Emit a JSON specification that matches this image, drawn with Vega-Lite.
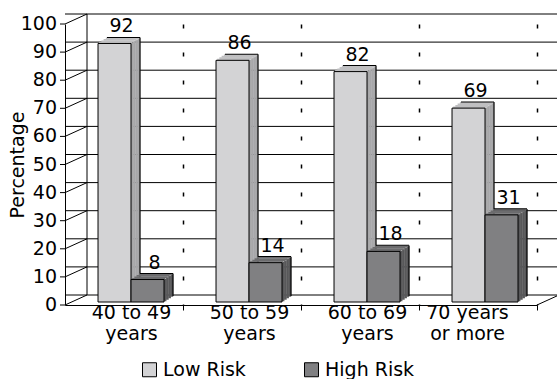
{
  "$schema": "https://vega.github.io/schema/vega-lite/v6.json",
  "width": 472,
  "height": 281,
  "autosize": {"type": "none"},
  "padding": {"left": 65, "top": 24, "right": 20, "bottom": 74},
  "background": "white",
  "datasets": {
    "bars": [
      {"age": "40 to 49\nyears", "risk": "Low Risk", "pct": 92},
      {"age": "40 to 49\nyears", "risk": "High Risk", "pct": 8},
      {"age": "50 to 59\nyears", "risk": "Low Risk", "pct": 86},
      {"age": "50 to 59\nyears", "risk": "High Risk", "pct": 14},
      {"age": "60 to 69\nyears", "risk": "Low Risk", "pct": 82},
      {"age": "60 to 69\nyears", "risk": "High Risk", "pct": 18},
      {"age": "70 years\nor more", "risk": "Low Risk", "pct": 69},
      {"age": "70 years\nor more", "risk": "High Risk", "pct": 31}
    ],
    "ticks": [
      {"v": 0}, {"v": 10}, {"v": 20}, {"v": 30}, {"v": 40}, {"v": 50},
      {"v": 60}, {"v": 70}, {"v": 80}, {"v": 90}, {"v": 100}
    ],
    "one": [{"k": 1}]
  },
  "layer": [
    {
      "data": {"name": "ticks"},
      "mark": {"type": "rule", "color": "#000", "strokeWidth": 1, "xOffset": 22, "x2Offset": 22, "yOffset": -10, "y2Offset": -10},
      "encoding": {
        "y": {"field": "v", "type": "quantitative", "scale": {"domain": [0, 100]}, "title": "Percentage"}
      }
    },
    {
      "data": {"name": "ticks"},
      "mark": {"type": "rule", "color": "#000", "strokeWidth": 1, "x2Offset": 22, "y2Offset": -10},
      "encoding": {
        "x": {"datum": "40 to 49\nyears", "type": "nominal", "bandPosition": 0,
          "scale": {"domain": ["40 to 49\nyears", "50 to 59\nyears", "60 to 69\nyears", "70 years\nor more"]}},
        "x2": {"datum": "40 to 49\nyears", "bandPosition": 0},
        "y": {"field": "v", "type": "quantitative", "title": "Percentage"},
        "y2": {"field": "v"}
      }
    },
    {
      "data": {"name": "ticks"},
      "mark": {"type": "rule", "color": "#000", "strokeWidth": 1, "xOffset": -5},
      "encoding": {
        "x": {"datum": "40 to 49\nyears", "type": "nominal", "bandPosition": 0},
        "x2": {"datum": "40 to 49\nyears", "bandPosition": 0},
        "y": {"field": "v", "type": "quantitative", "title": "Percentage"},
        "y2": {"field": "v"}
      }
    },
    {
      "data": {"name": "ticks"},
      "mark": {"type": "text", "align": "right", "baseline": "middle", "dx": -8, "fontSize": 19, "font": "DejaVu Sans", "color": "#000"},
      "encoding": {
        "x": {"datum": "40 to 49\nyears", "type": "nominal", "bandPosition": 0},
        "y": {"field": "v", "type": "quantitative", "title": "Percentage"},
        "text": {"field": "v", "type": "quantitative"}
      }
    },
    {
      "data": {"name": "one"},
      "mark": {"type": "rule", "color": "#000", "strokeWidth": 1, "xOffset": 22, "yOffset": -10, "y2Offset": -10},
      "encoding": {
        "x": {"datum": "40 to 49\nyears", "type": "nominal", "bandPosition": 0},
        "y": {"datum": 0, "type": "quantitative", "title": "Percentage"},
        "y2": {"datum": 100}
      }
    },
    {
      "data": {"name": "one"},
      "mark": {"type": "rule", "color": "#000", "strokeWidth": 1, "x2Offset": 22, "y2Offset": -10},
      "encoding": {
        "x": {"datum": "70 years\nor more", "type": "nominal", "bandPosition": 1},
        "x2": {"datum": "70 years\nor more", "bandPosition": 1},
        "y": {"datum": 0, "type": "quantitative", "title": "Percentage"},
        "y2": {"datum": 0}
      }
    },
    {
      "data": {"name": "bars"},
      "transform": [{"filter": "datum.risk === 'Low Risk'"}],
      "encoding": {
        "x": {"field": "age", "type": "nominal", "sort": null},
        "y": {"field": "pct", "type": "quantitative", "title": "Percentage"}
      },
      "layer": [
        {"mark": {"type": "bar", "width": 2.6, "xOffset": 14.875, "yOffset": -8.25, "y2Offset": -8.25, "fill": "#a7a7a9"}},
        {"mark": {"type": "bar", "width": 2.6, "xOffset": 12.625, "yOffset": -6.75, "y2Offset": -6.75, "fill": "#a7a7a9"}},
        {"mark": {"type": "bar", "width": 2.6, "xOffset": 10.375, "yOffset": -5.25, "y2Offset": -5.25, "fill": "#a7a7a9"}},
        {"mark": {"type": "bar", "width": 2.6, "xOffset": 8.125, "yOffset": -3.75, "y2Offset": -3.75, "fill": "#a7a7a9"}},
        {"mark": {"type": "bar", "width": 1.2, "xOffset": 16, "yOffset": -9, "y2Offset": -9, "fill": "#000"}}
      ]
    },
    {
      "data": {"name": "bars"},
      "transform": [{"filter": "datum.risk === 'High Risk'"}],
      "encoding": {
        "x": {"field": "age", "type": "nominal", "sort": null},
        "y": {"field": "pct", "type": "quantitative", "title": "Percentage"}
      },
      "layer": [
        {"mark": {"type": "bar", "width": 2.6, "xOffset": 47.875, "yOffset": -8.25, "y2Offset": -8.25, "fill": "#58585a"}},
        {"mark": {"type": "bar", "width": 2.6, "xOffset": 45.625, "yOffset": -6.75, "y2Offset": -6.75, "fill": "#58585a"}},
        {"mark": {"type": "bar", "width": 2.6, "xOffset": 43.375, "yOffset": -5.25, "y2Offset": -5.25, "fill": "#58585a"}},
        {"mark": {"type": "bar", "width": 2.6, "xOffset": 41.125, "yOffset": -3.75, "y2Offset": -3.75, "fill": "#58585a"}},
        {"mark": {"type": "bar", "width": 1.2, "xOffset": 49, "yOffset": -9, "y2Offset": -9, "fill": "#000"}}
      ]
    },
    {
      "data": {"name": "bars"},
      "transform": [{"filter": "datum.risk === 'Low Risk'"}],
      "encoding": {
        "x": {"field": "age", "type": "nominal", "sort": null},
        "y": {"field": "pct", "type": "quantitative", "title": "Percentage"},
        "y2": {"field": "pct"}
      },
      "layer": [
        {"mark": {"type": "bar", "width": 33, "xOffset": -1.625, "yOffset": -9, "y2Offset": -7.2, "fill": "#bfbfc1"}},
        {"mark": {"type": "bar", "width": 33, "xOffset": -3.875, "yOffset": -7.5, "y2Offset": -5.7, "fill": "#bfbfc1"}},
        {"mark": {"type": "bar", "width": 33, "xOffset": -6.125, "yOffset": -6, "y2Offset": -4.2, "fill": "#bfbfc1"}},
        {"mark": {"type": "bar", "width": 33, "xOffset": -8.375, "yOffset": -4.5, "y2Offset": -3, "fill": "#bfbfc1"}},
        {"mark": {"type": "bar", "width": 33, "xOffset": -0.5, "yOffset": -9.6, "y2Offset": -8.6, "fill": "#000"}}
      ]
    },
    {
      "data": {"name": "bars"},
      "transform": [{"filter": "datum.risk === 'High Risk'"}],
      "encoding": {
        "x": {"field": "age", "type": "nominal", "sort": null},
        "y": {"field": "pct", "type": "quantitative", "title": "Percentage"},
        "y2": {"field": "pct"}
      },
      "layer": [
        {"mark": {"type": "bar", "width": 33, "xOffset": 31.375, "yOffset": -9, "y2Offset": -7.2, "fill": "#6c6c6e"}},
        {"mark": {"type": "bar", "width": 33, "xOffset": 29.125, "yOffset": -7.5, "y2Offset": -5.7, "fill": "#6c6c6e"}},
        {"mark": {"type": "bar", "width": 33, "xOffset": 26.875, "yOffset": -6, "y2Offset": -4.2, "fill": "#6c6c6e"}},
        {"mark": {"type": "bar", "width": 33, "xOffset": 24.625, "yOffset": -4.5, "y2Offset": -3, "fill": "#6c6c6e"}},
        {"mark": {"type": "bar", "width": 33, "xOffset": 32.5, "yOffset": -9.6, "y2Offset": -8.6, "fill": "#000"}}
      ]
    },
    {
      "data": {"name": "bars"},
      "mark": {"type": "bar", "stroke": "#000", "strokeWidth": 1, "yOffset": -3, "y2Offset": -3},
      "encoding": {
        "x": {"field": "age", "type": "nominal", "sort": null, "title": null,
          "scale": {"domain": ["40 to 49\nyears", "50 to 59\nyears", "60 to 69\nyears", "70 years\nor more"]},
          "axis": {"title": null, "bandPosition": 1, "labelAngle": 0, "labelAlign": "center",
            "labelOffset": {"condition": {"test": "datum.value === '70 years\\nor more'", "value": -10.5}, "value": 7.5},
            "labelExpr": "split(datum.label, '\\n')", "labelLineHeight": 21, "labelPadding": 2, "tickSize": 5,
            "grid": true, "gridColor": "#000", "gridDash": [4, 24], "gridDashOffset": 0, "gridWidth": 1.5}},
        "xOffset": {"field": "risk", "sort": ["Low Risk", "High Risk"], "scale": {"paddingInner": 0, "paddingOuter": 0.788, "align": 0.635}},
        "y": {"field": "pct", "type": "quantitative", "title": "Percentage",
          "axis": {"title": "Percentage", "labels": false, "ticks": false, "grid": false, "titlePadding": 38}},
        "color": {"field": "risk", "type": "nominal", "sort": ["Low Risk", "High Risk"],
          "scale": {"domain": ["Low Risk", "High Risk"], "range": ["#d3d3d5", "#808082"]},
          "legend": {"title": null, "orient": "none", "legendX": 75, "legendY": 336, "direction": "horizontal",
            "symbolType": "square", "symbolSize": 196, "symbolStrokeColor": "#000", "symbolStrokeWidth": 1,
            "labelFontSize": 19, "labelFont": "DejaVu Sans", "labelColor": "#000", "columnPadding": 56, "labelOffset": 4, "labelLimit": 300}}
      }
    },
    {
      "data": {"name": "bars"},
      "mark": {"type": "text", "dx": 7, "dy": -14, "baseline": "alphabetic", "align": "center", "fontSize": 19, "font": "DejaVu Sans", "color": "#000"},
      "encoding": {
        "x": {"field": "age", "type": "nominal", "sort": null},
        "xOffset": {"field": "risk", "sort": ["Low Risk", "High Risk"]},
        "y": {"field": "pct", "type": "quantitative", "title": "Percentage"},
        "text": {"field": "pct", "type": "quantitative"}
      }
    }
  ],
  "config": {
    "view": {"stroke": null},
    "font": "DejaVu Sans",
    "scale": {"bandPaddingInner": 0, "bandPaddingOuter": 0},
    "axis": {
      "domainColor": "#000", "tickColor": "#000", "labelColor": "#000", "titleColor": "#000",
      "labelFont": "DejaVu Sans", "titleFont": "DejaVu Sans", "labelFontSize": 19, "titleFontSize": 19,
      "titleFontWeight": "normal", "domainWidth": 1, "tickWidth": 1
    }
  }
}
